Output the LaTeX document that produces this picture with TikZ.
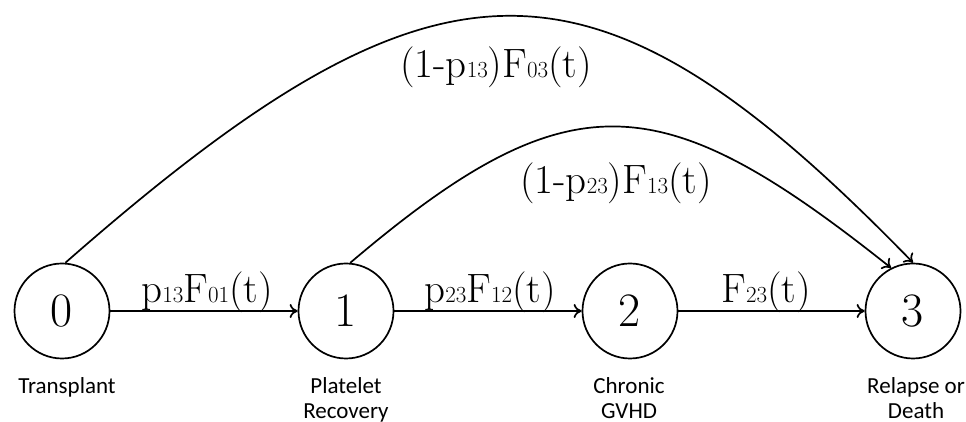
\documentclass[tikz,border=0pt]{standalone}
\usepackage{fontspec}
\newfontfamily\capfont{Carlito}
\usetikzlibrary{arrows.meta}
\newcommand\lowdig[1]{{\fontsize{23}{23}\selectfont #1}}
\begin{document}
\begin{tikzpicture}[x=1pt,y=1pt,
  state/.style={circle, draw, line width=1.7pt, minimum size=95pt, inner sep=0pt, font=\fontsize{48}{48}\selectfont},
  caption/.style={font=\capfont\fontsize{23}{25}\selectfont, align=center, inner sep=0pt, anchor=north},
  lab/.style={font=\fontsize{41}{41}\selectfont, inner sep=0pt, anchor=base},
  conn/.style={line width=1.7pt, -{To[length=8pt,width=14pt]}}]
\useasboundingbox (0,0) rectangle (966,422);
\node[state] (n0) at (62,111) {0};
\node[state] (n1) at (346,111) {1};
\node[state] (n2) at (630,111) {2};
\node[state] (n3) at (913,111) {3};
\node[caption] (c0) at (67,45) {Transplant};
\node[caption] (c1) at (346,45) {Platelet\\Recovery};
\node[caption] (c2) at (629,45) {Chronic\\GVHD};
\node[caption] (c3) at (916,45) {Relapse or\\Death};
\draw[conn] (n0) -- (n1);
\draw[conn] (n1) -- (n2);
\draw[conn] (n2) -- (n3);
\draw[conn] (n0.86) .. controls +(375,329) and +(-320,329) .. (n3.90);
\draw[conn] (n1.85) .. controls +(220,187) and +(-230,183) .. (n3.117);
\node[lab] (l01) at (207,119) {p\lowdig{13}F\lowdig{01}(t)};
\node[lab] (l12) at (490,119) {p\lowdig{23}F\lowdig{12}(t)};
\node[lab] (l23) at (766,119) {F\lowdig{23}(t)};
\node[lab] (l03) at (496,344) {(1-p\lowdig{13})F\lowdig{03}(t)};
\node[lab] (l13) at (616,228) {(1-p\lowdig{23})F\lowdig{13}(t)};
\end{tikzpicture}
\end{document}
